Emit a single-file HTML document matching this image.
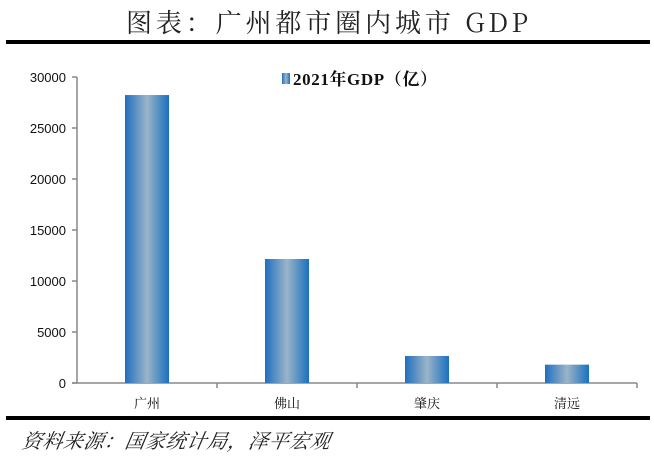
<!DOCTYPE html>
<html><head><meta charset="utf-8"><style>
body{margin:0;width:654px;height:459px;background:#fff;overflow:hidden;font-family:"Liberation Sans","Noto Sans CJK SC",sans-serif}
</style></head><body>
<svg width="654" height="459" xmlns="http://www.w3.org/2000/svg">
<defs><linearGradient id="g" x1="0" x2="1" y1="0" y2="0">
<stop offset="0" stop-color="#1f6fbf"/><stop offset="0.5" stop-color="#9bb4c8"/><stop offset="1" stop-color="#1a70c0"/></linearGradient></defs>
<text x="327" y="32" text-anchor="middle" font-size="26" font-family="'Noto Serif CJK SC','Liberation Serif',serif" fill="#222" textLength="402">图表：广州都市圈内城市 GDP</text>
<rect x="6" y="40" width="644" height="4" fill="#000"/>
<g id="plot"></g>
<g>
<rect x="282" y="73" width="8" height="11" fill="url(#g)"/>
<text x="293" y="85" font-size="17" font-weight="bold" font-family="'Liberation Serif','Noto Serif CJK SC',serif" fill="#111" textLength="144">2021年GDP（亿）</text>
</g>
<rect x="6" y="416" width="644" height="4" fill="#000"/>
<text x="22" y="448" font-size="20" font-style="italic" font-family="'Noto Serif CJK SC',serif" fill="#222" transform="skewX(-10) translate(78,0)" textLength="308">资料来源：国家统计局，泽平宏观</text>
</svg>
<script>
const categories=["广州","佛山","肇庆","清远"];
const values=[28232,12157,2650,1800];
const yTicks=[0,5000,10000,15000,20000,25000,30000];
const X0=77,X1=637,Y0=383,Y1=77,YMAX=30000;
const ns="http://www.w3.org/2000/svg";
const g=document.getElementById('plot');
const y=v=>Y0-(v/YMAX)*(Y0-Y1);
const bw=(X1-X0)/categories.length;
function mk(t,a){const e=document.createElementNS(ns,t);for(const k in a)e.setAttribute(k,a[k]);g.appendChild(e);return e;}
let ax=mk('line',{x1:X0,y1:Y1,x2:X0,y2:Y0,stroke:'#888','stroke-width':1.5});


let bx=mk('line',{x1:X0-5,y1:Y0,x2:X1,y2:Y0,stroke:'#888','stroke-width':1.5});


yTicks.forEach(v=>{
 let t=mk('line',{x1:X0-5,x2:X0,y1:y(v),y2:y(v),stroke:'#888','stroke-width':1.5});
 
 
 let l=mk('text',{x:X0-11,y:y(v)+5,'text-anchor':'end','font-size':13,fill:'#111'});
 l.textContent=v;
 
 
});
for(let i=1;i<=categories.length;i++){
 let t=mk('line',{x1:X0+i*bw,x2:X0+i*bw,y1:Y0,y2:Y0+5,stroke:'#888','stroke-width':1.5});
 
 
}
categories.forEach((c,i)=>{
 const cx=X0+bw*(i+0.5);
 let r=mk('rect',{x:cx-22,y:y(values[i]),width:44,height:Y0-y(values[i]),fill:'url(#g)'});
 
 
 let l=mk('text',{x:cx,y:408,'text-anchor':'middle','font-size':13,fill:'#111','font-family':"'Noto Serif CJK SC',serif"});
 l.textContent=c;
 
 
});
</script>
</body></html>
